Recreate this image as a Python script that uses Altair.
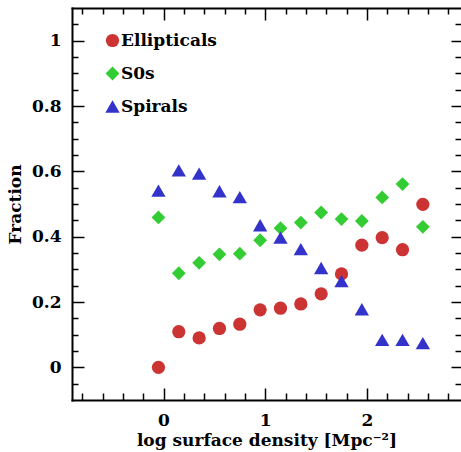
import altair as alt
import pandas as pd

# bin centres (log surface density)
log_density = [-0.05, 0.15, 0.35, 0.55, 0.75, 0.95, 1.15, 1.35, 1.55, 1.75, 1.95, 2.15, 2.35, 2.55]
ellipticals = [0.0, 0.109, 0.090, 0.119, 0.132, 0.176, 0.181, 0.194, 0.225, 0.286, 0.374, 0.397, 0.360, 0.499]
s0s = [0.459, 0.288, 0.320, 0.346, 0.348, 0.389, 0.426, 0.443, 0.474, 0.454, 0.448, 0.520, 0.561, 0.430]
spirals = [0.541, 0.603, 0.593, 0.539, 0.521, 0.435, 0.397, 0.362, 0.304, 0.264, 0.178, 0.084, 0.084, 0.074]

types = ["Ellipticals", "S0s", "Spirals"]
colors = ["#cc3333", "#33cc33", "#3333cc"]
shapes = ["circle", "diamond", "triangle-up"]
sizes = [175, 205, 155]

x_major = [0, 1, 2]
x_all = [-0.8, -0.6, -0.4, -0.2, 0, 0.2, 0.4, 0.6, 0.8, 1, 1.2, 1.4, 1.6, 1.8, 2,
         2.2, 2.4, 2.6, 2.8]
y_major = [0, 0.2, 0.4, 0.6, 0.8, 1]
y_all = [-0.05, 0, 0.05, 0.1, 0.15, 0.2, 0.25, 0.3, 0.35, 0.4, 0.45, 0.5, 0.55, 0.6,
         0.65, 0.7, 0.75, 0.8, 0.85, 0.9, 0.95, 1, 1.05]

rows = []
for name, vals in zip(types, [ellipticals, s0s, spirals]):
    for xv, yv in zip(log_density, vals):
        rows.append({"x": xv, "y": yv, "type": name})
df = pd.DataFrame(rows)

W, H = 389, 392
FONT = "DejaVu Serif"
FS = 17
FW = "bold"

xscale = alt.Scale(domain=[-0.9, 2.925], nice=False, zero=False)
yscale = alt.Scale(domain=[-0.1, 1.1], nice=False, zero=False)

x_test = "indexof([0,1,2], datum.value) >= 0"
y_test = "indexof([0,0.2,0.4,0.6,0.8,1], datum.value) >= 0"


def tsize(test, major, minor):
    return {"condition": {"test": test, "value": major}, "value": minor}


points = alt.Chart(df).mark_point(filled=True, opacity=1, strokeWidth=0).encode(
    x=alt.X("x:Q", scale=xscale, axis=alt.Axis(
        orient="bottom", values=x_major, ticks=False, grid=False, format="~g",
        domainColor="black", domainWidth=2, domainCap="square",
        labelFont=FONT, labelFontSize=FS, labelFontWeight=FW, labelColor="black",
        labelPadding=12,
        title="log surface density [Mpc⁻²]", titleFont=FONT, titleFontSize=FS,
        titleFontWeight=FW, titleColor="black", titlePadding=4)),
    y=alt.Y("y:Q", scale=yscale, axis=alt.Axis(
        orient="left", values=y_major, ticks=False, grid=False, format="~g",
        domainColor="black", domainWidth=2, domainCap="square",
        labelFont=FONT, labelFontSize=FS, labelFontWeight=FW, labelColor="black",
        labelPadding=11,
        title="Fraction", titleFont=FONT, titleFontSize=FS,
        titleFontWeight=FW, titleColor="black", titlePadding=7)),
    color=alt.Color("type:N", scale=alt.Scale(domain=types, range=colors),
                    legend=alt.Legend(title=None, orient="none", legendX=32, legendY=24,
                                      labelFont=FONT, labelFontSize=17, labelFontWeight="bold",
                                      labelColor="black", symbolSize=140, symbolStrokeWidth=0,
                                      symbolOpacity=1, labelOffset=0, rowPadding=15, padding=0)),
    shape=alt.Shape("type:N", scale=alt.Scale(domain=types, range=shapes)),
    size=alt.Size("type:N", scale=alt.Scale(domain=types, range=sizes), legend=None),
)

# inner ticks at bottom (pointing up) and left (pointing right)
ticks_bl = alt.Chart(df).mark_point(opacity=0).encode(
    x=alt.X("x:Q", scale=xscale, axis=alt.Axis(
        orient="top", offset=-H, values=x_all, labels=False, domain=False, grid=False,
        title=None, tickColor="black", tickWidth=1.5, tickSize=tsize(x_test, 12, 7))),
    y=alt.Y("y:Q", scale=yscale, axis=alt.Axis(
        orient="right", offset=-W, values=y_all, labels=False, domain=False, grid=False,
        title=None, tickColor="black", tickWidth=1.5, tickSize=tsize(y_test, 12, 6))),
)

# inner ticks at top (pointing down, with top frame) and right (pointing left)
ticks_tr = alt.Chart(df).mark_point(opacity=0).encode(
    x=alt.X("x:Q", scale=xscale, axis=alt.Axis(
        orient="bottom", offset=-H, values=x_all, labels=False, grid=False,
        domainColor="black", domainWidth=2, domainCap="square",
        title=None, tickColor="black", tickWidth=1.5, tickSize=tsize(x_test, 12, 6))),
    y=alt.Y("y:Q", scale=yscale, axis=alt.Axis(
        orient="left", offset=-W, values=y_all, labels=False, domain=False, grid=False,
        title=None, tickColor="black", tickWidth=1.5, tickSize=tsize(y_test, 10, 6))),
)

chart = alt.layer(points, ticks_bl, ticks_tr).resolve_axis(
    x="independent", y="independent"
).properties(
    width=W, height=H,
    autosize=alt.AutoSizeParams(type="none"),
    padding={"left": 72, "top": 8, "right": 0, "bottom": 52},
    background="white",
).configure_view(stroke=None)

chart.save("out.html", embed_options={"renderer": "svg", "actions": False})
